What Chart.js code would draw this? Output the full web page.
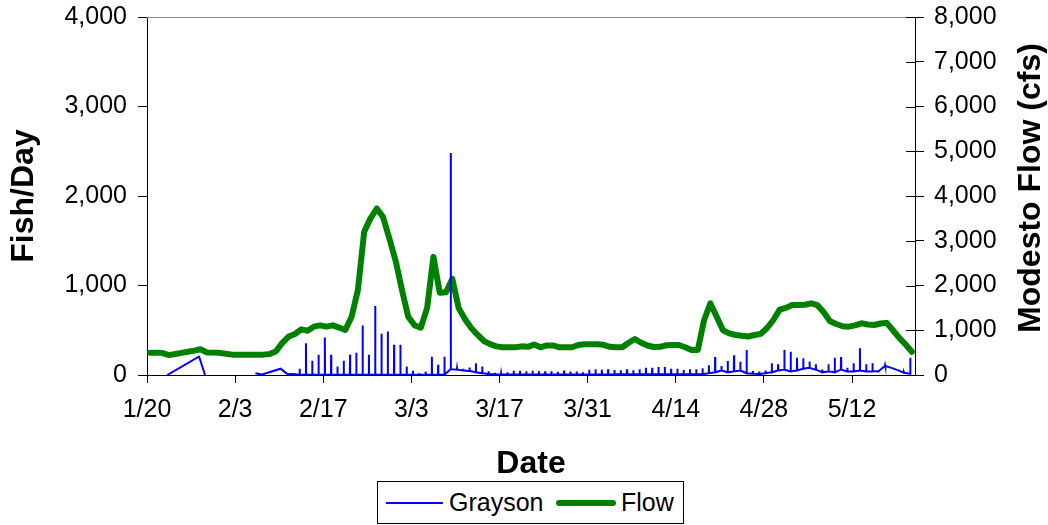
<!DOCTYPE html>
<html><head><meta charset="utf-8">
<script src="https://cdn.jsdelivr.net/npm/chart.js@4.4.1/dist/chart.umd.min.js"></script>
<style>
html,body{margin:0;padding:0;background:#fff;}
#wrap{position:relative;width:1048px;height:525px;overflow:hidden;}
#legend{position:absolute;left:377px;top:481px;width:307px;height:43px;border:1px solid #000;box-sizing:border-box;background:#fff;
 font:25px "Liberation Sans",Arial,sans-serif;color:#000;}
#legend .sw{position:absolute;}
#legend .tx{position:absolute;top:0;height:41px;line-height:41px;white-space:nowrap;}
</style></head>
<body><div id="wrap"><canvas id="c" width="1048" height="525"></canvas><div id="legend"></div></div>
<script>
// ---- data ----
const xTickLabels = ['1/20','2/3','2/17','3/3','3/17','3/31','4/14','4/28','5/12'];
const xTickDays   = [0,14,28,42,56,70,84,98,112];
const leftTicks   = [0,1000,2000,3000,4000];
const rightTicks  = [0,1000,2000,3000,4000,5000,6000,7000,8000];

// Modesto flow (cfs), one value per day starting 1/20
const flowCfs = [
 500,500,490,445,470,495,520,545,575,505,
 500,495,475,455,455,455,455,455,455,470,
 530,720,860,916,1020,990,1080,1110,1080,1110,
 1060,1006,1300,1900,3200,3500,3720,3530,3050,2550,
 1900,1300,1110,1060,1500,2640,1840,1850,2150,1500,
 1250,1050,900,760,690,640,620,619,619,640,
 630,680,619,660,660,619,619,619,670,686,
 686,686,675,630,619,619,720,805,720,660,
 625,630,665,670,670,620,560,560,1229,1600,
 1300,1000,930,894,875,860,894,920,1050,1229,
 1460,1500,1565,1565,1570,1602,1560,1400,1200,1140,
 1090,1080,1110,1155,1130,1117,1150,1165,1000,830,
 680,520
];

// Grayson fish/day: daily peak catch (null = no sample)
const graysonFish = [
 null,null,null,0,null,null,null,null,205,0,
 null,null,null,null,null,null,null,20,5,null,
 null,70,15,10,70,355,160,225,420,225,
 95,160,225,250,553,225,770,460,486,337,
 337,95,47,20,40,203,114,203,2480,76,
 69,85,132,95,43,25,20,30,47,47,
 43,47,43,40,43,35,50,40,40,30,
 60,65,60,65,56,52,63,52,63,80,
 82,90,89,70,71,56,63,63,75,108,
 200,100,156,220,149,280,45,40,50,130,
 120,280,260,193,186,150,120,60,120,193,
 200,80,130,300,120,130,50,110,85,60,
 30,193
];
// Grayson level between samples (null = same as peak)
const graysonBase = [
 null,null,null,null,null,null,null,null,null,null,
 null,null,null,null,null,null,null,null,null,null,
 null,null,null,null,3,3,3,3,3,3,
 3,3,3,3,3,3,3,3,3,3,
 3,3,3,3,3,3,3,3,65,60,
 50,45,30,20,10,5,5,5,5,5,
 5,5,5,5,5,5,5,5,5,5,
 5,5,5,5,8,8,8,8,8,8,
 8,8,8,8,8,8,8,8,8,20,
 30,50,30,40,50,20,15,10,20,30,
 50,60,40,50,70,80,60,30,40,30,
 60,40,40,50,40,40,45,100,80,55,
 25,15
];

const seriesNames = ['Grayson','Flow'];
const seriesColors = ['#0000FF','#008000'];

// ---- build points ----
const graysonPoints = [];
graysonFish.forEach((v, d) => {
  if (v === null) return;
  const b = graysonBase[d] === null ? v : graysonBase[d];
  graysonPoints.push({x: d + 0.22, y: b}, {x: d + 0.25, y: v}, {x: d + 0.28, y: b});
});
const flowPoints = flowCfs.map((v, d) => ({x: d + 0.5, y: v}));

const FONT = '"Liberation Sans", Arial, sans-serif';
const noPad = s => { s.paddingTop = 0; s.paddingBottom = 0; s.paddingLeft = 0; s.paddingRight = 0; };

const extras = {
  id: 'extras',
  afterDraw(chart) {
    const ctx = chart.ctx, a = chart.chartArea, s = chart.scales.y2;
    ctx.save();
    // grey top frame
    ctx.strokeStyle = '#8c8c8c'; ctx.lineWidth = 1;
    ctx.beginPath(); ctx.moveTo(a.left, a.top + 0.5); ctx.lineTo(a.right, a.top + 0.5); ctx.stroke();
    // inner half of the right-axis ticks
    ctx.strokeStyle = '#000';
    s.ticks.forEach(t => {
      const y = Math.round(s.getPixelForValue(t.value)) + 0.5;
      ctx.beginPath(); ctx.moveTo(s.left - 9, y); ctx.lineTo(s.left, y); ctx.stroke();
    });
    // right axis title, reading bottom to top
    ctx.fillStyle = '#000';
    ctx.font = 'bold 32px ' + FONT;
    ctx.textAlign = 'center'; ctx.textBaseline = 'middle';
    ctx.translate(1031, 188);
    ctx.rotate(-Math.PI / 2);
    ctx.fillText('Modesto Flow (cfs)', 0, 0);
    ctx.restore();
  }
};

const chart = new Chart(document.getElementById('c'), {
  type: 'line',
  data: {
    datasets: [
      {label: seriesNames[0], data: graysonPoints, borderColor: seriesColors[0], backgroundColor: seriesColors[0],
       borderWidth: 2, pointRadius: 0, tension: 0, yAxisID: 'y', spanGaps: 6},
      {label: seriesNames[1], data: flowPoints, borderColor: seriesColors[1], backgroundColor: seriesColors[1],
       borderWidth: 6, pointRadius: 0, tension: 0, yAxisID: 'y2', borderCapStyle: 'round', borderJoinStyle: 'round'}
    ]
  },
  options: {
    responsive: false, animation: false, devicePixelRatio: 1,
    layout: {padding: {top: 17, left: 0, right: 0, bottom: 40}},
    plugins: {legend: {display: false}, tooltip: {enabled: false}},
    scales: {
      x: {
        type: 'linear', min: 0, max: 122,
        afterBuildTicks: s => { s.ticks = xTickDays.map(v => ({value: v})); },
        afterFit: s => { s.height = 110; noPad(s); },
        ticks: {callback: v => xTickLabels[xTickDays.indexOf(v)], autoSkip: false, maxRotation: 0,
                color: '#000', font: {family: FONT, size: 25}, padding: 12},
        grid: {drawOnChartArea: false, drawTicks: true, tickLength: 8, color: '#000'},
        border: {display: true, color: '#000', width: 1},
        title: {display: true, text: 'Date', color: '#000', font: {family: FONT, size: 32, weight: 'bold'}, padding: {top: 0, bottom: 2}}
      },
      y: {
        position: 'left', min: 0, max: 4000,
        afterBuildTicks: s => { s.ticks = leftTicks.map(v => ({value: v})); },
        afterFit: s => { s.width = 147; noPad(s); },
        ticks: {callback: v => v.toLocaleString('en-US'), color: '#000', font: {family: FONT, size: 25}, padding: 11},
        grid: {drawOnChartArea: false, drawTicks: true, tickLength: 9, color: '#000'},
        border: {display: true, color: '#000', width: 1},
        title: {display: true, text: 'Fish/Day', color: '#000', font: {family: FONT, size: 32, weight: 'bold'}, padding: {top: 5, bottom: 0}}
      },
      y2: {
        position: 'right', min: 0, max: 8000,
        afterBuildTicks: s => { s.ticks = rightTicks.map(v => ({value: v})); },
        afterFit: s => { s.width = 133; noPad(s); },
        ticks: {callback: v => v.toLocaleString('en-US'), color: '#000', font: {family: FONT, size: 25}, padding: 10},
        grid: {drawOnChartArea: false, drawTicks: true, tickLength: 9, color: '#000'},
        border: {display: true, color: '#000', width: 1}
      }
    }
  },
  plugins: [extras]
});

// ---- HTML legend built from the datasets ----
const lg = document.getElementById('legend');
const layout = [
  {sw: [8, 57], tx: 71},
  {sw: [178, 60], tx: 243}
];
chart.data.datasets.forEach((ds, i) => {
  const sw = document.createElement('div');
  sw.className = 'sw';
  const h = ds.borderWidth;
  sw.style.cssText = `left:${layout[i].sw[0]}px;width:${layout[i].sw[1]}px;height:${h}px;top:${21 - h / 2}px;background:${ds.borderColor};border-radius:${ds.borderCapStyle === 'round' ? h / 2 : 0}px;`;
  const tx = document.createElement('div');
  tx.className = 'tx';
  tx.style.left = layout[i].tx + 'px';
  tx.textContent = ds.label;
  lg.appendChild(sw); lg.appendChild(tx);
});
</script>
</body></html>
